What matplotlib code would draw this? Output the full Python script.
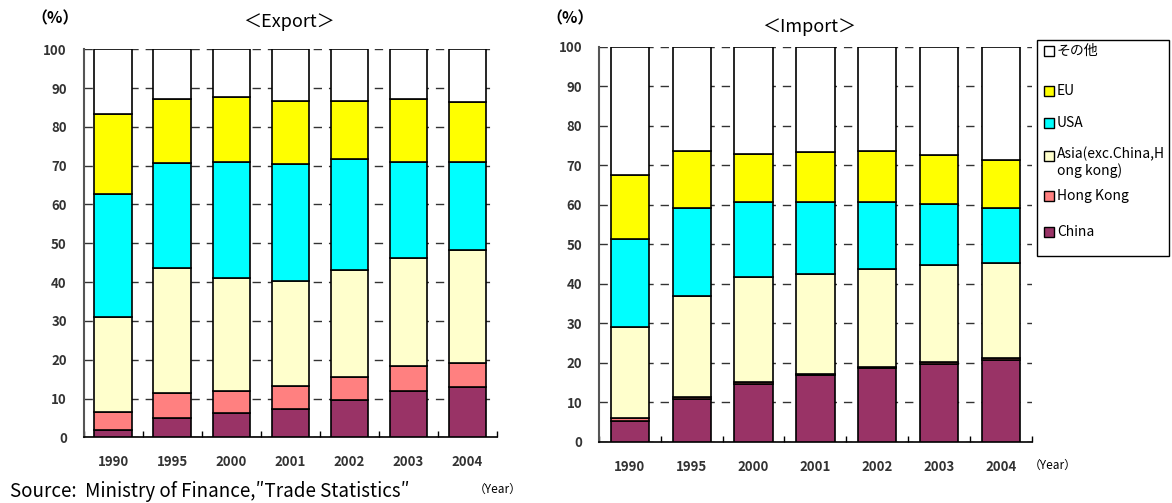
import matplotlib
matplotlib.use("Agg")
import matplotlib.pyplot as plt
from matplotlib.patches import Rectangle
import numpy as np

plt.rcParams['font.family'] = ['Noto Sans CJK JP', 'DejaVu Sans']

years = ["1990", "1995", "2000", "2001", "2002", "2003", "2004"]
regions = ["China", "Hong Kong", "Asia(exc.China,H\nong kong)", "USA", "EU", "その他"]
colors = ["#993366", "#FF8080", "#FFFFCC", "#00FFFF", "#FFFF00", "#FFFFFF"]

# Export shares by destination (%)
export_china = [1.9, 4.9, 6.3, 7.4, 9.6, 12.0, 13.0]
export_hk = [4.6, 6.4, 5.6, 5.9, 6.0, 6.3, 6.2]
export_asia = [24.4, 32.4, 29.1, 27.0, 27.4, 28.0, 29.1]
export_usa = [31.9, 27.1, 30.0, 30.2, 28.7, 24.7, 22.7]
export_eu = [20.6, 16.3, 16.8, 16.2, 15.0, 16.1, 15.3]
export_other = [16.6, 12.9, 12.2, 13.3, 13.3, 12.9, 13.7]

# Import shares by origin (%)
import_china = [5.3, 10.8, 14.5, 16.9, 18.6, 19.8, 20.8]
import_hk = [0.6, 0.6, 0.7, 0.3, 0.2, 0.3, 0.3]
import_asia = [23.1, 25.5, 26.6, 25.3, 25.0, 24.7, 24.3]
import_usa = [22.4, 22.2, 19.0, 18.3, 17.0, 15.3, 13.7]
import_eu = [16.1, 14.6, 12.2, 12.5, 12.9, 12.6, 12.2]
import_other = [32.5, 26.3, 27.0, 26.7, 26.3, 27.3, 28.7]

export_series = [export_china, export_hk, export_asia, export_usa, export_eu, export_other]
import_series = [import_china, import_hk, import_asia, import_usa, import_eu, import_other]

W, H = 1172, 503
fig = plt.figure(figsize=(W / 100, H / 100), dpi=100)


def fx(px):
    return px / W


def fy(py):
    return 1 - py / H


def draw_panel(ax, series, width):
    x = np.arange(len(years))
    bottom = np.zeros(len(years))
    for vals, col in zip(series, colors):
        v = np.array(vals)
        ax.bar(x, v, width=width, bottom=bottom, color=col,
               edgecolor="black", linewidth=1.2, zorder=3)
        bottom += v
    ax.set_xlim(-0.5, len(years) - 0.5)
    ax.set_ylim(0, 100)
    ax.set_yticks(np.arange(0, 101, 10))
    ax.set_xticks(x)
    ax.set_xticklabels(years)
    ax.set_xticks(np.arange(-0.5, len(years), 1.0), minor=True)
    ax.tick_params(axis="x", which="major", length=0, pad=13, labelsize=9.5)
    ax.tick_params(axis="x", which="minor", direction="in", length=4,
                   width=1, color="black")
    ax.tick_params(axis="y", length=0, pad=12, labelsize=9.5)
    for t in ax.get_yticklabels() + ax.get_xticklabels():
        t.set_fontweight("bold")
        t.set_color("#333333")
    ax.yaxis.grid(True, linestyle=(0, (6, 5)), color="#333333",
                  linewidth=1.0, zorder=0)
    for s in ("top", "right"):
        ax.spines[s].set_visible(False)
    ax.spines["left"].set_color("#555555")
    ax.spines["left"].set_linewidth(1.5)
    ax.spines["bottom"].set_color("black")
    ax.spines["bottom"].set_linewidth(1.2)


# Export panel
ax1 = fig.add_axes([fx(83.5), fy(437.3), fx(497 - 83.5), fy(49.3) - fy(437.3)])
draw_panel(ax1, export_series, 0.63)

# Import panel
ax2 = fig.add_axes([fx(599), fy(441.7), fx(1031.7 - 599), fy(47) - fy(441.7)])
draw_panel(ax2, import_series, 0.62)

# Titles and unit labels
fig.text(fx(55), fy(18), "（%）", ha="center", va="center", fontsize=11.5, fontweight="bold")
fig.text(fx(289), fy(22), "＜Export＞", ha="center", va="center", fontsize=13)
fig.text(fx(570), fy(18), "（%）", ha="center", va="center", fontsize=11.5, fontweight="bold")
fig.text(fx(809), fy(27), "＜Import＞", ha="center", va="center", fontsize=13)
fig.text(fx(498), fy(489), "（Year）", ha="center", va="center", fontsize=8.5)
fig.text(fx(1053), fy(465), "（Year）", ha="center", va="center", fontsize=8.5)
fig.text(fx(10), fy(491), "Source:  Ministry of Finance,″Trade Statistics″",
         ha="left", va="center", fontsize=13.5)

# Legend box with region swatches (top entry = top segment)
fig.patches.append(Rectangle((fx(1037), fy(256)), fx(1169 - 1037), fy(40) - fy(256),
                             transform=fig.transFigure, facecolor="white",
                             edgecolor="black", linewidth=1.0, zorder=1))
legend_y = [50.7, 91, 123, 156, 196, 232]
for name, col, py in zip(regions[::-1], colors[::-1], legend_y):
    fig.patches.append(Rectangle((fx(1044), fy(py + 5)), fx(10), fy(py - 5) - fy(py + 5),
                                 transform=fig.transFigure, facecolor=col,
                                 edgecolor="black", linewidth=1.0, zorder=2))
    va = "top" if "\n" in name else "center"
    ty = py - 9 if "\n" in name else py
    fig.text(fx(1057), fy(ty), name, ha="left", va=va, fontsize=10,
             linespacing=1.15, zorder=3)

fig.savefig("out.png", dpi=100)
